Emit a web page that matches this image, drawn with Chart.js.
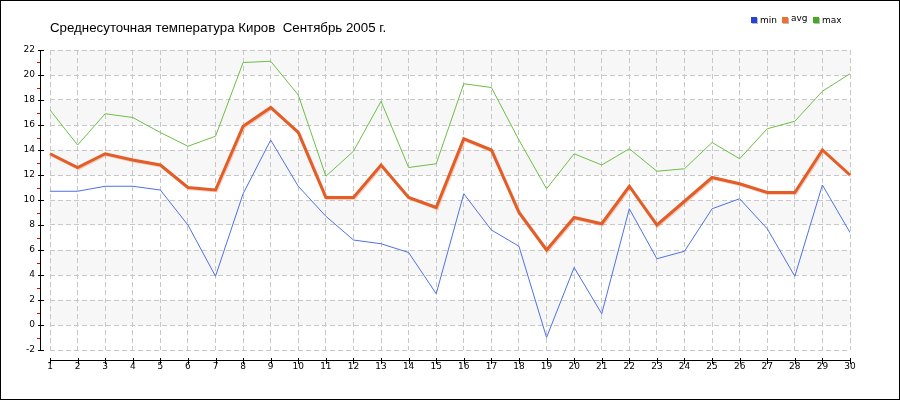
<!DOCTYPE html>
<html>
<head>
<meta charset="utf-8">
<script src="https://cdn.jsdelivr.net/npm/chart.js@4"></script>
<style>
  html, body { margin: 0; padding: 0; background: #fff; }
  #wrap { width: 900px; height: 400px; position: relative; }
</style>
</head>
<body>
<div id="wrap"><canvas id="chart" width="900" height="400"></canvas></div>
<script>
// Data
const days = ['1','2','3','4','5','6','7','8','9','10','11','12','13','14','15','16','17','18','19','20','21','22','23','24','25','26','27','28','29','30'];
const tMin = [10.7, 10.7, 11.1, 11.1, 10.8, 8.0, 3.9, 10.5, 14.8, 11.1, 8.7, 6.8, 6.5, 5.8, 2.5, 10.5, 7.6, 6.3, -1.0, 4.6, 0.9, 9.3, 5.3, 5.9, 9.3, 10.1, 7.7, 3.9, 11.2, 7.4];
const tAvg = [13.7, 12.6, 13.7, 13.2, 12.8, 11.0, 10.8, 15.9, 17.4, 15.4, 10.2, 10.2, 12.8, 10.2, 9.4, 14.9, 14.0, 9.0, 6.0, 8.6, 8.1, 11.1, 8.0, 9.9, 11.8, 11.3, 10.6, 10.6, 14.0, 12.0];
const tMax = [17.2, 14.4, 16.9, 16.6, 15.4, 14.3, 15.1, 21.0, 21.1, 18.4, 11.9, 13.9, 17.9, 12.6, 12.9, 19.3, 19.0, 14.8, 10.9, 13.7, 12.8, 14.1, 12.3, 12.5, 14.6, 13.3, 15.7, 16.3, 18.7, 20.1];
const seriesNames = ['min', 'avg', 'max'];
const legendColors = ['#2244dd', '#ee7033', '#44aa22'];
const titleText = 'Среднесуточная температура Киров  Сентябрь 2005 г.';

const FONT = '"DejaVu Sans", sans-serif';
const TITLE_FONT = '13.3px "Liberation Sans", Arial, sans-serif';

// grey bands, axis lines, ticks, title, legend, frame
const decorPlugin = {
    id: 'decor',
    beforeDraw(chart) {
        const ctx = chart.ctx;
        const a = chart.chartArea;
        const y = chart.scales.y;
        ctx.save();
        ctx.fillStyle = '#f7f7f7';
        for (let v = 0; v < 22; v += 4) {
            const top = y.getPixelForValue(v + 2);
            const bot = y.getPixelForValue(v);
            ctx.fillRect(a.left, top, a.right - a.left, bot - top);
        }
        ctx.restore();
    },
    beforeDatasetDraw(chart, args) {
        if (args.index === 2) {
            chart.ctx.save();
            chart.ctx.shadowColor = 'rgba(235,120,80,0.35)';
            chart.ctx.shadowOffsetX = 1;
            chart.ctx.shadowOffsetY = 1;
        }
    },
    afterDatasetDraw(chart, args) {
        if (args.index === 2) chart.ctx.restore();
    },
    afterDraw(chart) {
        const ctx = chart.ctx;
        const a = chart.chartArea;
        const y = chart.scales.y;
        const x = chart.scales.x;
        ctx.save();
        ctx.lineWidth = 1;
        ctx.strokeStyle = '#000';
        // y axis
        ctx.beginPath();
        ctx.moveTo(40.5, y.getPixelForValue(22));
        ctx.lineTo(40.5, y.getPixelForValue(-2));
        for (let v = -2; v <= 22; v += 2) {
            const p = Math.round(y.getPixelForValue(v)) + 0.5;
            ctx.moveTo(38, p);
            ctx.lineTo(44, p);
        }
        ctx.stroke();
        ctx.strokeStyle = '#e00000';
        ctx.beginPath();
        for (let v = -1; v <= 21; v += 2) {
            const p = Math.round(y.getPixelForValue(v)) + 0.5;
            ctx.moveTo(37, p);
            ctx.lineTo(40, p);
        }
        ctx.stroke();
        // x axis
        ctx.strokeStyle = '#000';
        ctx.beginPath();
        ctx.moveTo(a.left, 360.5);
        ctx.lineTo(a.right, 360.5);
        for (let i = 0; i < days.length; i++) {
            const p = Math.round(x.getPixelForValue(i)) + 0.5;
            ctx.moveTo(p, 358);
            ctx.lineTo(p, 364);
        }
        ctx.stroke();
        // title
        ctx.font = TITLE_FONT;
        ctx.fillStyle = '#000';
        ctx.textBaseline = 'alphabetic';
        ctx.fillText(titleText, 50, 32);
        // legend
        ctx.font = '9px ' + FONT;
        ctx.textBaseline = 'middle';
        const lx = [751, 782, 813];
        seriesNames.forEach((n, i) => {
            ctx.fillStyle = '#bbb';
            ctx.fillRect(lx[i] + 1, 18, 6, 6);
            ctx.fillStyle = legendColors[i];
            ctx.fillRect(lx[i], 17, 6, 6);
            ctx.fillStyle = '#000';
            ctx.fillText(n, lx[i] + 9, n === 'avg' ? 19 : 21);
        });
        // frame
        ctx.strokeStyle = '#000';
        ctx.strokeRect(0.5, 0.5, 899, 399);
        ctx.restore();
    }
};

const gridOpts = {
    color: '#c8c8c8',
    lineWidth: 1,
    drawTicks: false
};

const chart = new Chart(document.getElementById('chart').getContext('2d'), {
    type: 'line',
    data: {
        labels: days,
        datasets: [
            {
                label: 'min',
                data: tMin,
                borderColor: '#4f72e6',
                borderWidth: 1,
                pointRadius: 0,
                tension: 0
            },
            {
                label: 'max',
                data: tMax,
                borderColor: '#6cbf46',
                borderWidth: 1,
                pointRadius: 0,
                tension: 0
            },
            {
                label: 'avg',
                data: tAvg,
                borderColor: '#e35d27',
                borderWidth: 3,
                pointRadius: 0,
                tension: 0
            }
        ]
    },
    options: {
        responsive: false,
        animation: false,
        events: [],
        layout: { padding: { left: 0, right: 50, top: 50, bottom: 0 } },
        plugins: {
            legend: { display: false },
            tooltip: { enabled: false },
            title: { display: false }
        },
        scales: {
            x: {
                type: 'category',
                offset: false,
                border: { display: false, dash: [5, 3] },
                grid: gridOpts,
                ticks: {
                    color: '#000',
                    font: { family: FONT, size: 9 },
                    padding: 11,
                    maxRotation: 0,
                    autoSkip: false
                },
                afterFit: s => { s.height = 50; }
            },
            y: {
                min: -2,
                max: 22,
                border: { display: false, dash: [5, 3] },
                grid: gridOpts,
                ticks: {
                    stepSize: 2,
                    color: '#000',
                    font: { family: FONT, size: 9 },
                    padding: 15
                },
                afterFit: s => { s.width = 50; }
            }
        }
    },
    plugins: [decorPlugin]
});
</script>
</body>
</html>
